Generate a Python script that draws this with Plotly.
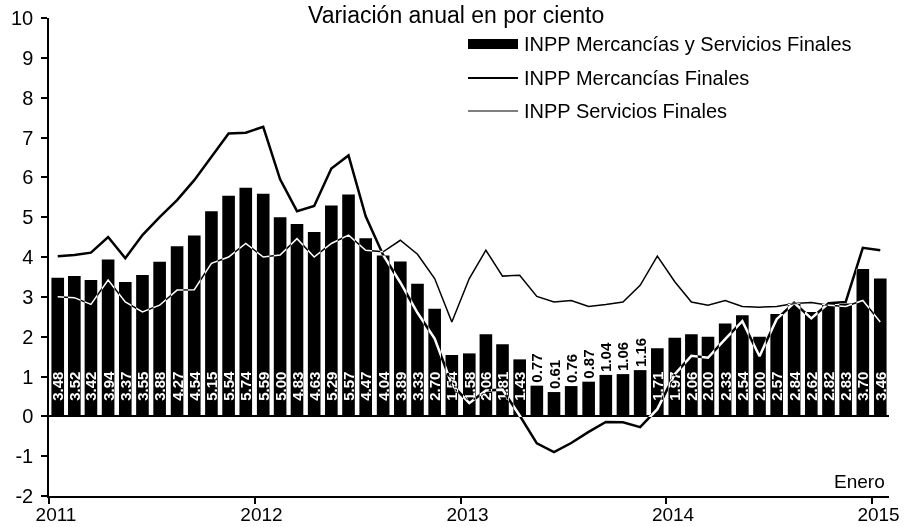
import pandas as pd
import plotly.graph_objects as go

# monthly data, Jan 2011 - Jan 2015
meses = pd.date_range("2011-01-01", "2015-01-01", freq="MS")

inpp_total = [3.48, 3.52, 3.42, 3.94, 3.37, 3.55, 3.88, 4.27, 4.54, 5.15, 5.54, 5.74,
              5.59, 5.00, 4.83, 4.63, 5.29, 5.57, 4.47, 4.04, 3.89, 3.33, 2.70, 1.54,
              1.58, 2.06, 1.81, 1.43, 0.77, 0.61, 0.76, 0.87, 1.04, 1.06, 1.16, 1.71,
              1.97, 2.06, 2.00, 2.33, 2.54, 2.00, 2.57, 2.84, 2.62, 2.82, 2.83, 3.70,
              3.46]

inpp_mercancias = [4.02, 4.05, 4.11, 4.50, 3.97, 4.55, 5.00, 5.43, 5.93, 6.50, 7.10, 7.12,
                   7.27, 5.95, 5.15, 5.28, 6.22, 6.55, 5.02, 4.05, 3.36, 2.60, 1.95, 0.80,
                   0.33, 0.65, 0.67, 0.02, -0.68, -0.90, -0.67, -0.39, -0.14, -0.15, -0.27, 0.18,
                   1.06, 1.52, 1.47, 1.94, 2.39, 1.51, 2.44, 2.85, 2.46, 2.84, 2.87, 4.23,
                   4.17]

inpp_servicios = [3.00, 2.98, 2.81, 3.42, 2.87, 2.62, 2.79, 3.17, 3.18, 3.84, 4.00, 4.34,
                  4.00, 4.05, 4.46, 4.00, 4.34, 4.55, 4.17, 4.13, 4.42, 4.07, 3.46, 2.37,
                  3.46, 4.17, 3.52, 3.54, 3.01, 2.87, 2.91, 2.76, 2.81, 2.87, 3.29, 4.02,
                  3.38, 2.87, 2.79, 2.91, 2.76, 2.74, 2.76, 2.83, 2.86, 2.79, 2.76, 2.91,
                  2.37]

y_ticks = [-2, -1, 0, 1, 2, 3, 4, 5, 6, 7, 8, 9, 10]
y_ticktext = [str(t) for t in y_ticks]  # plain hyphen, not unicode minus

FONT = "Arial, Liberation Sans, sans-serif"

# small bars get their label above the bar
pos = ["outside" if v < 1.3 else "inside" for v in inpp_total]
labels = [("%.2f" % v) if p == "outside" else "\u00a0\u00a0\u00a0%.2f" % v
          for v, p in zip(inpp_total, pos)]

fig = go.Figure()
fig.add_trace(go.Bar(
    x=meses, y=inpp_total, xperiod="M1", xperiodalignment="middle",
    marker=dict(color="black", line=dict(width=0)),
    text=labels, textposition=pos, textangle=-90, insidetextanchor="start",
    insidetextfont=dict(family=FONT, size=15, color="white", weight="bold"),
    outsidetextfont=dict(family=FONT, size=15, color="black", weight="bold"),
    constraintext="none", cliponaxis=False, showlegend=False,
))
# lines drawn white and blended with "difference": black on paper, white on bars
fig.add_trace(go.Scatter(
    x=meses, y=inpp_mercancias, xperiod="M1", xperiodalignment="middle",
    mode="lines", line=dict(color="white", width=2.5),
    cliponaxis=False, showlegend=False,
))
fig.add_trace(go.Scatter(
    x=meses, y=inpp_servicios, xperiod="M1", xperiodalignment="middle",
    mode="lines", line=dict(color="white", width=1.5),
    cliponaxis=False, showlegend=False,
))

# hand-drawn legend (wide symbols like the original)
def px_x(p):
    return (p - 49) / 840.0

def px_y(p):
    return (496 - p) / 478.0

legend_items = ["INPP Mercancías y Servicios Finales",
                "INPP Mercancías Finales",
                "INPP Servicios Finales"]
rows = [44, 78, 111]
shapes = [
    dict(type="rect", xref="paper", yref="paper", x0=px_x(468), x1=px_x(518),
         y0=px_y(rows[0] + 5), y1=px_y(rows[0] - 5), fillcolor="black", line=dict(width=0)),
    dict(type="line", xref="paper", yref="paper", x0=px_x(468), x1=px_x(518),
         y0=px_y(rows[1]), y1=px_y(rows[1]), line=dict(color="black", width=2)),
    dict(type="line", xref="paper", yref="paper", x0=px_x(468), x1=px_x(518),
         y0=px_y(rows[2]), y1=px_y(rows[2]), line=dict(color="black", width=1.2)),
]
annotations = [
    dict(text=t, xref="paper", yref="paper", x=px_x(522), y=px_y(r),
         xanchor="left", yanchor="middle", showarrow=False,
         font=dict(family=FONT, size=20, color="black"))
    for t, r in zip(legend_items, rows)
]
annotations.append(dict(text="Variación anual en por ciento", xref="paper", yref="paper",
                        x=px_x(456), y=px_y(0), xanchor="center", yanchor="top", showarrow=False,
                        font=dict(family=FONT, size=23, color="black")))
annotations.append(dict(text="Enero", xref="paper", yref="paper", x=px_x(887), y=px_y(481),
                        xanchor="right", yanchor="middle", showarrow=False,
                        font=dict(family=FONT, size=19, color="black")))

fig.update_layout(
    width=904, height=527,
    margin=dict(l=49, r=15, t=18, b=31),
    paper_bgcolor="white", plot_bgcolor="white",
    bargap=0.24,
    font=dict(family=FONT, size=20, color="black"),
    shapes=shapes, annotations=annotations,
    xaxis=dict(type="date", range=["2011-01-01", "2015-02-01"], automargin=False,
               tick0="2011-01-01", dtick="M12", tickformat="%Y",
               ticks="outside", ticklen=6, tickcolor="black", tickwidth=1.5,
               ticklabelstandoff=-6, ticklabelshift=7,
               showline=True, linecolor="black", linewidth=1.5,
               showgrid=False, zeroline=False, tickfont=dict(size=19)),
    yaxis=dict(range=[-2, 10], tickvals=y_ticks, ticktext=y_ticktext, automargin=False,
               ticks="outside", ticklen=6, tickcolor="black", tickwidth=1.5,
               ticklabelstandoff=4,
               showline=True, linecolor="black", linewidth=1.5,
               showgrid=False, zeroline=True, zerolinecolor="black", zerolinewidth=1.5,
               tickfont=dict(size=20)),
)

post = """
document.body.style.margin = '0';
var st = document.createElement('style');
st.textContent = '.scatterlayer .trace { mix-blend-mode: difference; }';
document.head.appendChild(st);
"""
fig.write_html("out.html", post_script=post, config={"displayModeBar": False})
